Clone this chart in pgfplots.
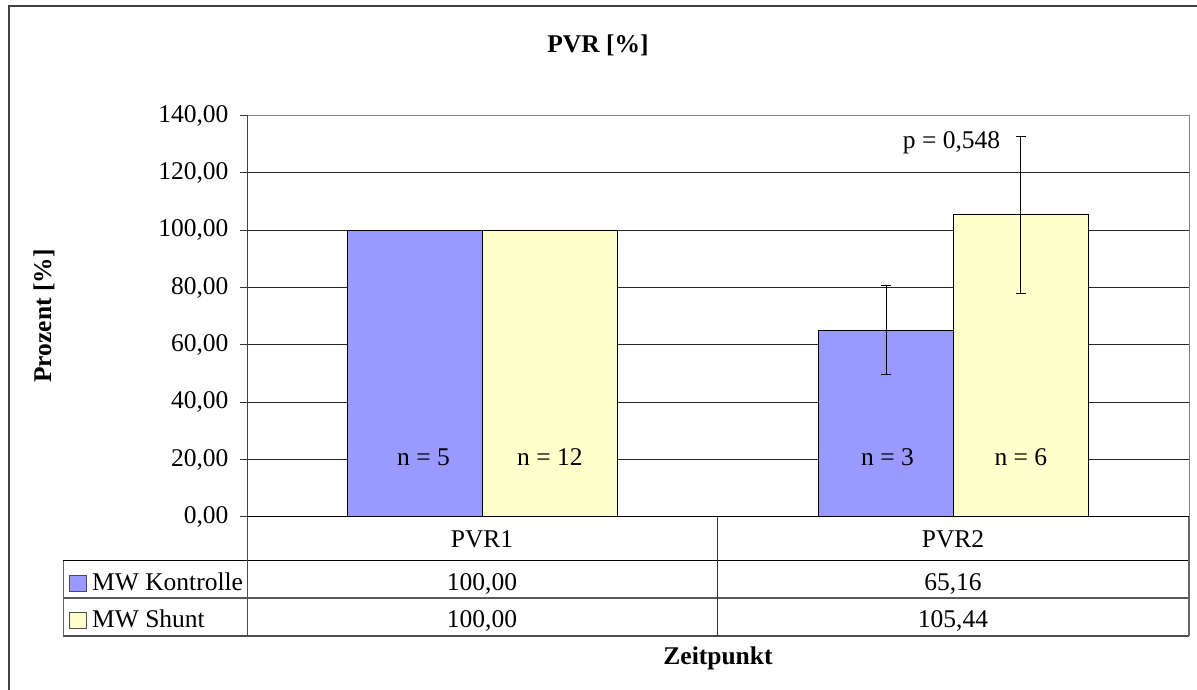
\documentclass[border=0pt]{standalone}
\usepackage{fontspec}
\setmainfont{Liberation Serif}
\usepackage{pgfplots}
\pgfplotsset{compat=1.18}
\definecolor{kblue}{HTML}{9999FF}
\definecolor{syel}{HTML}{FFFFCC}
\newcommand{\F}{\fontsize{25.5}{30}\selectfont}
\begin{document}
\begin{tikzpicture}[x=1pt,y=1pt,font=\F]
\useasboundingbox (0,0) rectangle (1197,690);
\draw[black!75,line width=2pt] (8.5,684) rectangle (1250,-50);
\begin{axis}[
  at={(247pt,173pt)}, anchor=south west, scale only axis,
  width=942pt, height=401.5pt,
  xmin=-0.5, xmax=1.5, ymin=0, ymax=140,
  xtick=\empty, ytick={0,20,...,140},
  ymajorgrids, grid style={black!85,line width=1pt},
  axis line style={black!50,line width=1pt},
  tick align=outside, major tick length=7pt,
  tick style={black!80,line width=1pt}, ytick pos=left,
  yticklabel style={font=\F, xshift=-8pt, /pgf/number format/.cd, fixed, fixed zerofill, precision=2, use comma, assume math mode=true},
  bar width=134.7pt,
  clip=false,
]
\addplot[ybar, bar shift=-67.35pt, fill=kblue, draw=black, line width=1pt]
  coordinates {(0,100) (1,65.16)};
\addplot[ybar, bar shift=67.35pt, fill=syel, draw=black, line width=1pt]
  coordinates {(0,100) (1,105.44)};
% error bars (x positions shifted by half a bar width: 67.35pt = 0.143 units)
\addplot[draw=none, mark=none,
  error bars/.cd, y dir=both, y explicit,
  error bar style={draw=black,line width=1pt},
  error mark options={rotate=90,draw=black,line width=1pt,mark size=5pt}]
  coordinates {(-0.143,100) +- (0,0) (0.857,65.16) +- (0,15.5)};
\addplot[draw=none, mark=none,
  error bars/.cd, y dir=both, y explicit,
  error bar style={draw=black,line width=1pt},
  error mark options={rotate=90,draw=black,line width=1pt,mark size=5pt}]
  coordinates {(0.143,100) +- (0,0) (1.143,105.44) +- (0,27.4)};
\draw[black!75,line width=1pt] (axis cs:-0.5,0) -- (axis cs:-0.5,140);
\draw[black,line width=1pt] (axis cs:-0.5,0) -- (axis cs:1.5,0);
\node[anchor=base] at ([xshift=-59pt]axis cs:0,18) {n = 5};
\node[anchor=base] at ([xshift=67.35pt]axis cs:0,18) {n = 12};
\node[anchor=base] at ([xshift=-66pt]axis cs:1,18) {n = 3};
\node[anchor=base] at ([xshift=67.35pt]axis cs:1,18) {n = 6};
\node[anchor=base] at ([xshift=-2pt]axis cs:1,128.5) {p = 0,548};
\end{axis}
% data table
\draw[black,line width=1pt] (63,129) -- (1189,129);
\draw[black!65,line width=1.2pt] (63,92) -- (1189,92);
\draw[black!70,line width=1.2pt] (63,54) -- (1189,54);
\draw[black!60,line width=1pt] (63,129) -- (63,54);
\draw[black!70,line width=1pt] (247,173) -- (247,54);
\draw[black!80,line width=1pt] (717,173) -- (717,54);
\draw[black!60,line width=1.2pt] (1189,173) -- (1189,54);
\node[anchor=base] at (482,142) {PVR1};
\node[anchor=base] at (953,142) {PVR2};
\node[anchor=base] at (482,99) {100,00};
\node[anchor=base] at (953,99) {65,16};
\node[anchor=base] at (482,62) {100,00};
\node[anchor=base] at (953,62) {105,44};
\draw[black!70,fill=kblue,line width=1pt] (69,98) rectangle (86,114);
\draw[black!70,fill=syel,line width=1pt] (69,61) rectangle (86,77);
\node[anchor=base west,inner sep=0pt] at (92,99) {MW Kontrolle};
\node[anchor=base west,inner sep=0pt] at (92,62) {MW Shunt};
% titles
\node[anchor=base,font=\F\bfseries] at (598,637) {PVR [\%]};
\node[anchor=base,font=\F\bfseries] at (718,25) {Zeitpunkt};
\node[anchor=base,rotate=90,font=\F\bfseries] at (51,374) {Prozent [\%]};
\end{tikzpicture}
\end{document}
